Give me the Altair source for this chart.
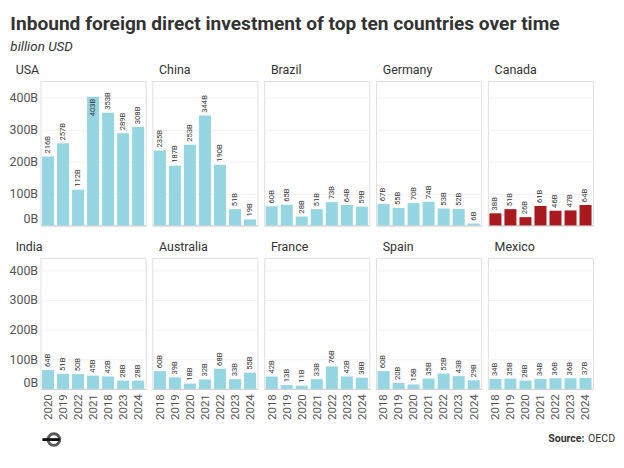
import altair as alt
import pandas as pd

years = ["2018", "2019", "2020", "2021", "2022", "2023", "2024"]
india_years = ["2020", "2019", "2022", "2021", "2018", "2023", "2024"]

top_countries = ["USA", "China", "Brazil", "Germany", "Canada"]
bottom_countries = ["India", "Australia", "France", "Spain", "Mexico"]

usa = [216, 257, 112, 403, 353, 289, 308]
china = [235, 187, 253, 344, 190, 51, 19]
brazil = [60, 65, 28, 51, 73, 64, 59]
germany = [67, 55, 70, 74, 53, 52, 6]
canada = [38, 51, 26, 61, 46, 47, 64]
india = [64, 51, 50, 45, 42, 28, 28]
australia = [60, 39, 18, 32, 68, 33, 55]
france = [42, 13, 11, 33, 76, 42, 38]
spain = [60, 20, 15, 35, 52, 43, 29]
mexico = [34, 35, 28, 34, 36, 36, 37]

highlight = "Canada"

series = {
    "USA": (years, usa), "China": (years, china), "Brazil": (years, brazil),
    "Germany": (years, germany), "Canada": (years, canada),
    "India": (india_years, india), "Australia": (years, australia),
    "France": (years, france), "Spain": (years, spain), "Mexico": (years, mexico),
}

BLUE = "#96d5e2"
RED = "#a81a20"
FONT = "Roboto"
W = 110
SP = 5


def panel(country, show_y, show_x, h, ymax):
    yrs, vals = series[country]
    df = pd.DataFrame({"year": yrs, "value": vals})
    color = RED if country == highlight else BLUE
    x = alt.X(
        "year:N", sort=yrs, title=None,
        scale=alt.Scale(paddingInner=0.2, paddingOuter=0.1),
        axis=alt.Axis(labelAngle=270, labelFontSize=12, labelColor="#555",
                      labelFont=FONT, ticks=False, domain=True, domainColor="#cccccc",
                      labels=show_x, labelPadding=5),
    )
    if show_y:
        yaxis = alt.Axis(values=[0, 100, 200, 300, 400], labelExpr="datum.value + 'B'",
                         labelFontSize=13, labelColor="#555", labelFont=FONT,
                         ticks=False, domain=False, gridColor="#f0f0f0",
                         labelPadding=3, labelOverlap=False,
                         labelBaseline={"expr": "datum.value == 0 ? 'bottom' : 'middle'"})
    else:
        yaxis = alt.Axis(values=[0, 100, 200, 300, 400], labels=False, ticks=False,
                         domain=False, gridColor="#f0f0f0")
    y = alt.Y("value:Q", title=None, scale=alt.Scale(domain=[0, ymax], nice=False), axis=yaxis)
    base = alt.Chart(df).transform_calculate(label="datum.value + 'B'")
    bars = base.mark_bar(color=color).encode(x=x, y=y)
    out = base.transform_filter("datum.value < 380").mark_text(
        angle=270, align="left", baseline="middle", dx=3, fontSize=8,
        color="#333", font=FONT).encode(x=x, y=y, text="label:N")
    ins = base.transform_filter("datum.value >= 380").mark_text(
        angle=270, align="right", baseline="middle", dx=-2, fontSize=8,
        color="#333", font=FONT).encode(x=x, y=y, text="label:N")
    return alt.layer(bars, out, ins).properties(
        width=W, height=h,
        title=alt.TitleParams(country, anchor="start", dx=7, fontSize=13,
                              fontWeight="normal", color="#333", font=FONT, offset=4),
        view=alt.ViewBackground(stroke="#dddddd"),
    )


top = alt.hconcat(*[panel(c, i == 0, False, 151, 452) for i, c in enumerate(top_countries)], spacing=SP)
bottom = alt.hconcat(*[panel(c, i == 0, True, 137, 442) for i, c in enumerate(bottom_countries)], spacing=SP)
grid = alt.vconcat(top, bottom, spacing=15)

foot_df = pd.DataFrame({"a": [1]})
footer_w = 32 + 5 * W + 4 * SP - 1
src_bold = alt.Chart(foot_df).mark_text(align="right", fontWeight="bold", fontSize=11,
                                        font=FONT, color="#333").encode(
    x=alt.value(footer_w - 32), y=alt.value(10), text=alt.value("Source:"))
src_txt = alt.Chart(foot_df).mark_text(align="right", fontSize=11, font=FONT,
                                       color="#333").encode(
    x=alt.value(footer_w), y=alt.value(10), text=alt.value("OECD"))
logo_c = alt.Chart(foot_df).mark_point(shape="circle", filled=False, size=150,
                                       strokeWidth=3, color="#111").encode(
    x=alt.value(14), y=alt.value(10))
logo_l = alt.Chart(foot_df).mark_rule(strokeWidth=3, color="#111").encode(
    x=alt.value(2), x2=alt.value(20), y=alt.value(10))
footer = alt.layer(logo_c, logo_l, src_bold, src_txt).properties(
    width=footer_w, height=16, view=alt.ViewBackground(stroke="transparent"))

chart = alt.vconcat(grid, footer, spacing=7).properties(
    title=alt.TitleParams("Inbound foreign direct investment of top ten countries over time",
                          subtitle="billion USD", anchor="start", fontSize=20,
                          fontWeight="bold", color="#333", font=FONT,
                          subtitleFont=FONT, subtitleFontSize=14, subtitlePadding=7,
                          subtitleFontStyle="italic", subtitleColor="#333",
                          offset=11, dx=2),
    padding={"left": 0, "top": -4, "right": 0, "bottom": 0},
).configure_view(stroke="transparent")

chart.save("out.html", embed_options={"renderer": "svg", "actions": False})
